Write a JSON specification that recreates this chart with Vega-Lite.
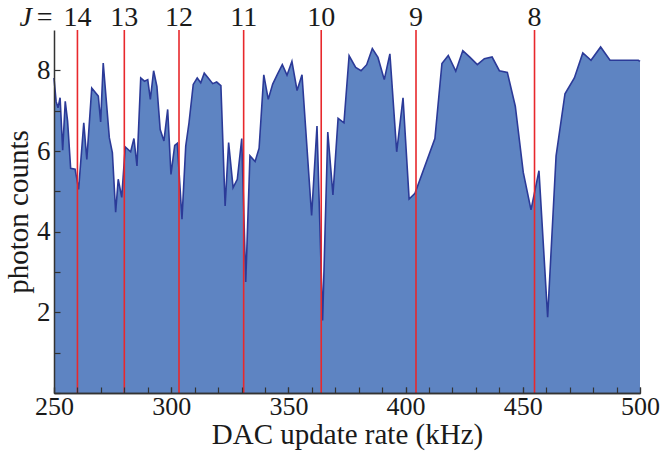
{
  "$schema": "https://vega.github.io/schema/vega-lite/v6.json",
  "width": 586,
  "height": 363,
  "autosize": "none",
  "padding": {"left": 54, "top": 30, "right": 21, "bottom": 59},
  "background": "white",
  "config": {
    "view": {"stroke": null},
    "font": "Liberation Serif",
    "axis": {
      "grid": false,
      "domainColor": "#333333",
      "domainWidth": 1.5,
      "tickColor": "#333333",
      "tickWidth": 1.2,
      "labelFont": "Liberation Serif",
      "labelFontSize": 27,
      "labelColor": "#1a1a1a",
      "titleFont": "Liberation Serif",
      "titleFontSize": 29,
      "titleFontWeight": "normal",
      "titleColor": "#1a1a1a"
    }
  },
  "resolve": {"axis": {"x": "independent"}},
  "datasets": {
    "counts": [
      {"rate": 250.0, "counts": 7.81}, {"rate": 250.9, "counts": 7.23}, {"rate": 251.7, "counts": 7.07},
      {"rate": 252.6, "counts": 7.32}, {"rate": 253.7, "counts": 6.02}, {"rate": 254.8, "counts": 7.23},
      {"rate": 255.8, "counts": 6.74}, {"rate": 257.1, "counts": 5.57}, {"rate": 259.0, "counts": 5.55},
      {"rate": 260.5, "counts": 5.05}, {"rate": 262.7, "counts": 6.70}, {"rate": 264.0, "counts": 5.79},
      {"rate": 266.1, "counts": 7.56}, {"rate": 268.9, "counts": 7.36}, {"rate": 269.9, "counts": 6.72},
      {"rate": 271.0, "counts": 8.18}, {"rate": 273.6, "counts": 6.33}, {"rate": 274.9, "counts": 5.96},
      {"rate": 276.3, "counts": 4.48}, {"rate": 277.4, "counts": 5.30}, {"rate": 278.9, "counts": 4.85},
      {"rate": 280.4, "counts": 6.10}, {"rate": 282.7, "counts": 5.98}, {"rate": 284.1, "counts": 6.31},
      {"rate": 285.4, "counts": 5.63}, {"rate": 287.0, "counts": 7.81}, {"rate": 288.6, "counts": 7.73},
      {"rate": 290.0, "counts": 7.77}, {"rate": 291.1, "counts": 7.28}, {"rate": 292.5, "counts": 7.99},
      {"rate": 293.9, "counts": 7.60}, {"rate": 295.3, "counts": 6.53}, {"rate": 296.9, "counts": 6.25},
      {"rate": 298.5, "counts": 7.03}, {"rate": 299.9, "counts": 5.42}, {"rate": 301.5, "counts": 6.14},
      {"rate": 302.6, "counts": 6.19}, {"rate": 304.6, "counts": 4.31}, {"rate": 306.2, "counts": 6.12},
      {"rate": 307.6, "counts": 6.70}, {"rate": 309.4, "counts": 7.65}, {"rate": 311.1, "counts": 7.81},
      {"rate": 312.6, "counts": 7.69}, {"rate": 314.1, "counts": 7.93}, {"rate": 315.8, "counts": 7.81},
      {"rate": 317.7, "counts": 7.67}, {"rate": 319.4, "counts": 7.71}, {"rate": 321.2, "counts": 7.62},
      {"rate": 323.0, "counts": 4.64}, {"rate": 324.5, "counts": 6.21}, {"rate": 326.4, "counts": 5.09},
      {"rate": 328.2, "counts": 5.30}, {"rate": 330.1, "counts": 6.31}, {"rate": 331.8, "counts": 2.75},
      {"rate": 333.6, "counts": 5.88}, {"rate": 335.8, "counts": 5.74}, {"rate": 337.5, "counts": 6.07},
      {"rate": 339.5, "counts": 7.89}, {"rate": 341.4, "counts": 7.28}, {"rate": 343.3, "counts": 7.66},
      {"rate": 345.4, "counts": 7.91}, {"rate": 347.4, "counts": 8.14}, {"rate": 349.4, "counts": 7.88},
      {"rate": 351.5, "counts": 8.22}, {"rate": 353.7, "counts": 7.50}, {"rate": 355.8, "counts": 7.89},
      {"rate": 359.9, "counts": 4.40}, {"rate": 362.2, "counts": 6.62}, {"rate": 364.6, "counts": 1.80},
      {"rate": 366.8, "counts": 6.47}, {"rate": 369.0, "counts": 4.91}, {"rate": 371.2, "counts": 6.81},
      {"rate": 373.7, "counts": 6.70}, {"rate": 375.9, "counts": 8.36}, {"rate": 378.7, "counts": 8.07},
      {"rate": 381.0, "counts": 7.99}, {"rate": 383.4, "counts": 8.14}, {"rate": 385.8, "counts": 8.54},
      {"rate": 388.2, "counts": 8.32}, {"rate": 390.9, "counts": 7.77}, {"rate": 393.3, "counts": 8.41},
      {"rate": 396.2, "counts": 5.98}, {"rate": 398.9, "counts": 7.32}, {"rate": 401.5, "counts": 4.81},
      {"rate": 404.0, "counts": 4.95}, {"rate": 412.5, "counts": 6.31}, {"rate": 415.5, "counts": 8.17},
      {"rate": 418.2, "counts": 8.37}, {"rate": 421.4, "counts": 7.98}, {"rate": 424.4, "counts": 8.49},
      {"rate": 427.5, "counts": 8.32}, {"rate": 430.6, "counts": 8.14}, {"rate": 433.6, "counts": 8.29},
      {"rate": 436.9, "counts": 8.33}, {"rate": 440.0, "counts": 7.99}, {"rate": 443.4, "counts": 7.95},
      {"rate": 446.8, "counts": 7.11}, {"rate": 450.2, "counts": 5.47}, {"rate": 453.5, "counts": 4.54},
      {"rate": 456.9, "counts": 5.51}, {"rate": 460.6, "counts": 1.88}, {"rate": 464.2, "counts": 5.88},
      {"rate": 468.0, "counts": 7.42}, {"rate": 472.0, "counts": 7.81}, {"rate": 475.6, "counts": 8.43},
      {"rate": 479.1, "counts": 8.25}, {"rate": 483.2, "counts": 8.58}, {"rate": 487.2, "counts": 8.25},
      {"rate": 499.3, "counts": 8.25}, {"rate": 500.0, "counts": 8.22}
    ],
    "jlines": [
      {"J": "14", "rate": 260.0},
      {"J": "13", "rate": 280.0},
      {"J": "12", "rate": 303.33},
      {"J": "11", "rate": 330.91},
      {"J": "10", "rate": 364.0},
      {"J": "9", "rate": 404.44},
      {"J": "8", "rate": 455.0}
    ],
    "jsym": [{"t": "J", "rate": 237.9}],
    "jeq": [{"t": "=", "rate": 246.0}]
  },
  "layer": [
    {
      "data": {"name": "counts"},
      "mark": {"type": "area", "color": "#5E84C2", "opacity": 1, "line": {"color": "#2B3A98", "strokeWidth": 1.6}},
      "encoding": {
        "x": {
          "field": "rate", "type": "quantitative",
          "scale": {"domain": [250, 500], "nice": false, "zero": false},
          "axis": {
            "orient": "bottom",
            "title": null,
            "values": [250,260,270,280,290,300,310,320,330,340,350,360,370,380,390,400,410,420,430,440,450,460,470,480,490,500],
            "labels": false,
            "tickSize": -6,
            "zindex": 2
          }
        },
        "y": {
          "field": "counts", "type": "quantitative",
          "scale": {"domain": [0, 9], "nice": false},
          "axis": {
            "title": "photon counts",
            "values": [0,0.5,1,1.5,2,2.5,3,3.5,4,4.5,5,5.5,6,6.5,7,7.5,8,8.5],
            "labelExpr": "(datum.value % 2 == 0 && datum.value > 0) ? datum.label : ''",
            "labelOverlap": false,
            "tickSize": -6,
            "zindex": 2,
            "labelPadding": 10,
            "titlePadding": 3,
            "labelFlush": false
          }
        }
      }
    },
    {
      "data": {"name": "jlines"},
      "mark": {"type": "rule", "color": "#E8282C", "strokeWidth": 1.6},
      "encoding": {
        "x": {
          "field": "rate", "type": "quantitative",
          "axis": {
            "orient": "bottom",
            "title": "DAC update rate (kHz)",
            "values": [250, 300, 350, 400, 450, 500],
            "labelOverlap": false,
            "labelFontSize": 26,
            "tickSize": -6,
            "zindex": 2,
            "labelPadding": 6,
            "titlePadding": 1,
            "labelFlush": false
          }
        }
      }
    },
    {
      "data": {"name": "jlines"},
      "mark": {"type": "text", "fontSize": 28, "font": "Liberation Serif", "color": "#1a1a1a", "baseline": "alphabetic", "align": "center", "dy": -4},
      "encoding": {
        "x": {"field": "rate", "type": "quantitative", "axis": null},
        "y": {"datum": 9, "type": "quantitative"},
        "text": {"field": "J"}
      }
    },
    {
      "data": {"name": "jsym"},
      "mark": {"type": "text", "fontSize": 28, "font": "Liberation Serif", "fontStyle": "italic", "color": "#1a1a1a", "baseline": "alphabetic", "align": "center", "dy": -4},
      "encoding": {
        "x": {"field": "rate", "type": "quantitative", "axis": null},
        "y": {"datum": 9, "type": "quantitative"},
        "text": {"field": "t"}
      }
    },
    {
      "data": {"name": "jeq"},
      "mark": {"type": "text", "fontSize": 28, "font": "Liberation Serif", "color": "#1a1a1a", "baseline": "alphabetic", "align": "center", "dy": -4},
      "encoding": {
        "x": {"field": "rate", "type": "quantitative", "axis": null},
        "y": {"datum": 9, "type": "quantitative"},
        "text": {"field": "t"}
      }
    }
  ]
}
